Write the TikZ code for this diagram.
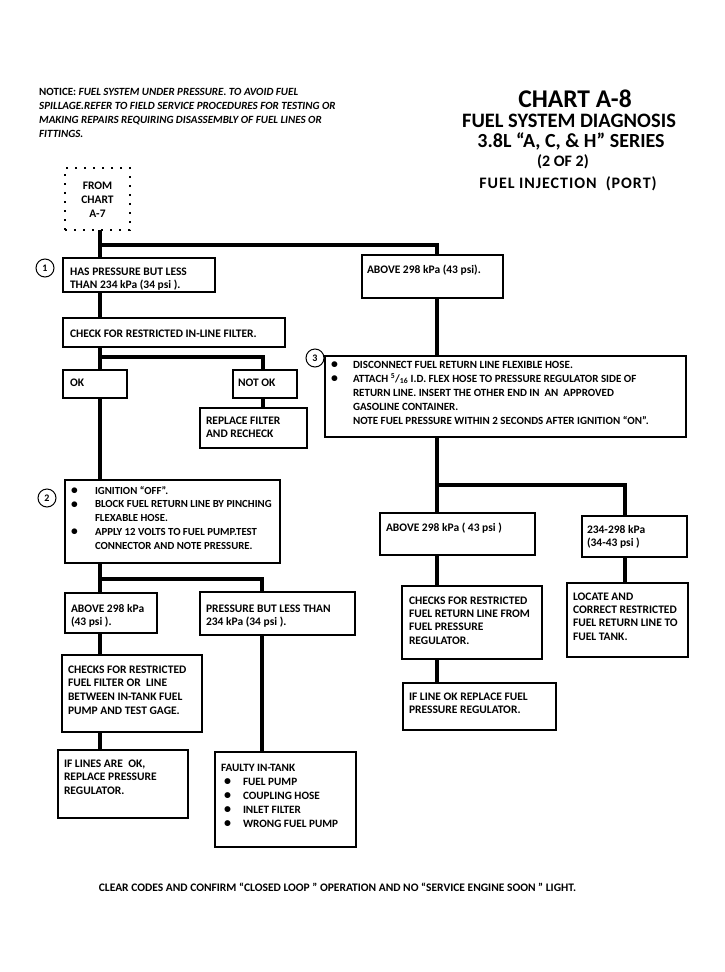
\documentclass[tikz,border=0pt]{standalone}
\usepackage{fontspec}
\usepackage{graphicx}
\setmainfont{Carlito}
\newfontfamily\spacedfont[LetterSpace=6]{Carlito}
\usetikzlibrary{fit}
\newcommand\tstrut{\rule{0pt}{10pt}}
\newcommand\bul[1][22pt]{\makebox[#1][l]{\raisebox{-0.5pt}{\scalebox{1.25}{\textbullet}}}}
\newcommand\ind[1][22pt]{\hspace*{#1}}
\tikzset{
  box/.style={draw, line width=1.3pt, inner sep=0pt, outer sep=0pt},
  dotbox/.style={draw, line width=2.4pt, dash pattern=on 2.4pt off 6.6pt, inner sep=0pt, outer sep=0pt},
  txt/.style={anchor=north west, align=left, inner sep=0pt, outer sep=0pt, font=\fontsize{11.5}{13.75}\selectfont\bfseries},
  conn/.style={line width=3.5pt},
  num/.style={circle, draw, line width=1pt, minimum size=18pt, inner sep=0pt, font=\fontsize{10}{10}\selectfont\bfseries},
  ttl/.style={anchor=base, inner sep=0pt, outer sep=0pt},
}
\begin{document}
\begin{tikzpicture}[x=1pt,y=-1pt]
\useasboundingbox (0,0) rectangle (725,972);
\fill[white] (0,0) rectangle (725,972);

% notice
\node[anchor=north west, align=left, inner sep=0pt, font=\fontsize{11}{14.2}\selectfont\bfseries\itshape] (notice) at (39,85)
 {\tstrut{\upshape NOTICE:} FUEL SYSTEM UNDER PRESSURE. TO AVOID FUEL\\SPILLAGE.REFER TO FIELD SERVICE PROCEDURES FOR TESTING OR\\MAKING REPAIRS REQUIRING DISASSEMBLY OF FUEL LINES OR\\FITTINGS.};

% title
\node[ttl, font=\fontsize{25.5}{26}\selectfont\bfseries] (t1) at (575,107) {CHART A-8};
\node[ttl, font=\fontsize{20.5}{21}\selectfont\bfseries] (t2) at (569,127) {FUEL SYSTEM DIAGNOSIS};
\node[ttl, font=\fontsize{20}{21}\selectfont\bfseries] (t3) at (571,147) {3.8L “A, C, \& H” SERIES};
\node[ttl, font=\fontsize{16}{17}\selectfont\bfseries] (t4) at (563,166) {(2 OF 2)};
\node[ttl, font=\fontsize{16}{17}\selectfont\bfseries\spacedfont] (t5) at (568,188) {FUEL INJECTION \ (PORT)};

% boxes
\node[dotbox, fit={(65,168) (130,230)}] (from) {};
\node[txt, anchor=north, align=center, font=\fontsize{11.5}{14}\selectfont\bfseries] (fromt) at (97.5,179) {\tstrut FROM\\CHART\\A-7};

\node[box, fit={(63,258) (215,292)}] (b1) {};
\node[txt] (b1t) at (70,265) {\tstrut HAS PRESSURE BUT LESS\\THAN 234 kPa (34 psi ).};
\node[num] (n1) at (45,268) {1};

\node[box, fit={(362,255) (503,298)}] (above1) {};
\node[txt] (above1t) at (367,263) {\tstrut ABOVE 298 kPa (43 psi).};

\node[box, fit={(63,318) (285,347)}] (check) {};
\node[txt] (checkt) at (70,327) {\tstrut CHECK FOR RESTRICTED IN-LINE FILTER.};

\node[box, fit={(63,370) (127,398)}] (ok) {};
\node[txt] (okt) at (70,376) {\tstrut OK};

\node[box, fit={(233,370) (297,398)}] (notok) {};
\node[txt] (notokt) at (238,376) {\tstrut NOT OK};

\node[box, fit={(200,408) (307,448)}] (replace) {};
\node[txt] (replacet) at (206,414) {\tstrut REPLACE FILTER\\AND RECHECK};

\node[box, fit={(325,356) (686,437)}] (b3) {};
\node[txt, font=\fontsize{11}{14.2}\selectfont\bfseries] (b3t) at (331,358)
 {\tstrut\bul DISCONNECT FUEL RETURN LINE FLEXIBLE HOSE.\\
  \bul ATTACH \textsuperscript{5}/\textsubscript{16} I.D. FLEX HOSE TO PRESSURE REGULATOR SIDE OF\\
  \ind RETURN LINE. INSERT THE OTHER END IN \ AN \ APPROVED\\
  \ind GASOLINE CONTAINER.\\
  \ind NOTE FUEL PRESSURE WITHIN 2 SECONDS AFTER IGNITION “ON”.};
\node[num] (n3) at (315,358) {3};

\node[box, fit={(65,480) (280,563)}] (b2) {};
\node[txt, font=\fontsize{10.8}{13.75}\selectfont\bfseries] (b2t) at (71,484)
 {\tstrut\bul[24pt]IGNITION “OFF”.\\
  \bul[24pt]BLOCK FUEL RETURN LINE BY PINCHING\\
  \ind[24pt]FLEXABLE HOSE.\\
  \bul[24pt]APPLY 12 VOLTS TO FUEL PUMP.TEST\\
  \ind[24pt]CONNECTOR AND NOTE PRESSURE.};
\node[num] (n2) at (47,498) {2};

\node[box, fit={(65,593) (157,633)}] (a2) {};
\node[txt] (a2t) at (71,602) {\tstrut ABOVE 298 kPa\\(43 psi ).};

\node[box, fit={(200,592) (355,635)}] (p2) {};
\node[txt] (p2t) at (206,602) {\tstrut PRESSURE BUT LESS THAN\\234 kPa (34 psi ).};

\node[box, fit={(62,655) (202,732)}] (c2) {};
\node[txt] (c2t) at (68,663) {\tstrut CHECKS FOR RESTRICTED\\FUEL FILTER OR \ LINE\\BETWEEN IN-TANK FUEL\\PUMP AND TEST GAGE.};

\node[box, fit={(58,750) (188,818)}] (i2) {};
\node[txt] (i2t) at (64,757) {\tstrut IF LINES ARE \ OK,\\REPLACE PRESSURE\\REGULATOR.};

\node[box, fit={(215,752) (356,847)}] (f2) {};
\node[txt, font=\fontsize{11.2}{14}\selectfont\bfseries] (f2t) at (221,761)
 {\tstrut FAULTY IN-TANK\\
  \hspace*{3pt}\bul[19pt]FUEL PUMP\\
  \hspace*{3pt}\bul[19pt]COUPLING HOSE\\
  \hspace*{3pt}\bul[19pt]INLET FILTER\\
  \hspace*{3pt}\bul[19pt]WRONG FUEL PUMP};

\node[box, fit={(380,513) (535,555)}] (a3) {};
\node[txt] (a3t) at (386,521) {\tstrut ABOVE 298 kPa ( 43 psi )};

\node[box, fit={(582,516) (687,557)}] (r3) {};
\node[txt] (r3t) at (587,523) {\tstrut 234-298 kPa\\(34-43 psi )};

\node[box, fit={(402,586) (542,659)}] (c3) {};
\node[txt, font=\fontsize{11.5}{13.4}\selectfont\bfseries] (c3t) at (409,594) {\tstrut CHECKS FOR RESTRICTED\\FUEL RETURN LINE FROM\\FUEL PRESSURE\\REGULATOR.};

\node[box, fit={(403,683) (556,730)}] (i3) {};
\node[txt] (i3t) at (409,690) {\tstrut IF LINE OK REPLACE FUEL\\PRESSURE REGULATOR.};

\node[box, fit={(567,583) (688,657)}] (l3) {};
\node[txt, font=\fontsize{11.5}{13.4}\selectfont\bfseries] (l3t) at (573,590) {\tstrut LOCATE AND\\CORRECT RESTRICTED\\FUEL RETURN LINE TO\\FUEL TANK.};

% bottom
\node[ttl, font=\fontsize{11.5}{13}\selectfont\bfseries] (bottom) at (337.5,891) {CLEAR CODES AND CONFIRM “CLOSED LOOP ” OPERATION AND NO “SERVICE ENGINE SOON ” LIGHT.};

% connectors
\coordinate (xL) at (100,0);
\coordinate (xN) at (263,0);
\coordinate (xR) at (437,0);
\coordinate (xRR) at (625,0);
\coordinate (xP) at (262,0);
\coordinate (j1) at (100,245);
\coordinate (j2) at (100,357);
\coordinate (j3) at (437,485);
\coordinate (j4) at (100,579);

\draw[conn] (xL |- from.south) -- (xL |- b1.north);
\draw[conn] (j1) -| (xR |- above1.north);
\draw[conn] (xL |- b1.south) -- (xL |- check.north);
\draw[conn] (xL |- check.south) -- (xL |- ok.north);
\draw[conn] (j2) -| (xN |- notok.north);
\draw[conn] (xN |- notok.south) -- (xN |- replace.north);
\draw[conn] (xL |- ok.south) -- (xL |- b2.north);
\draw[conn] (xR |- above1.south) -- (xR |- b3.north);
\draw[conn] (xR |- b3.south) -- (xR |- a3.north);
\draw[conn] (j3) -| (xRR |- r3.north);
\draw[conn] (xR |- a3.south) -- (xR |- c3.north);
\draw[conn] (xR |- c3.south) -- (xR |- i3.north);
\draw[conn] (xRR |- r3.south) -- (xRR |- l3.north);
\draw[conn] (xL |- b2.south) -- (xL |- a2.north);
\draw[conn] (j4) -| (xP |- p2.north);
\draw[conn] (xL |- a2.south) -- (xL |- c2.north);
\draw[conn] (xL |- c2.south) -- (xL |- i2.north);
\draw[conn] (xP |- p2.south) -- (xP |- f2.north);
\end{tikzpicture}
\end{document}
